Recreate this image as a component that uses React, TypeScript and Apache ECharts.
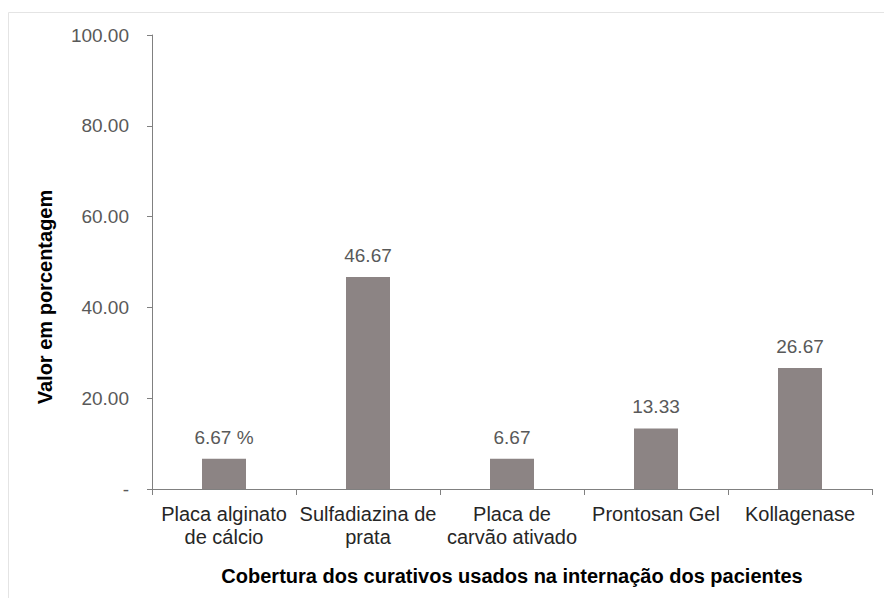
import React, { useEffect, useRef } from "react";
import * as echarts from "echarts";

const categories = [
  "Placa alginato\nde cálcio",
  "Sulfadiazina de\nprata",
  "Placa de\ncarvão ativado",
  "Prontosan Gel",
  "Kollagenase",
];
const values = [6.67, 46.67, 6.67, 13.33, 26.67];
const valueLabels = ["6.67 %", "46.67", "6.67", "13.33", "26.67"];

export default function App() {
  const ref = useRef<HTMLDivElement>(null);
  useEffect(() => {
    document.body.style.margin = "0";
    const chart = echarts.init(ref.current!, null, { renderer: "svg" });
    const font = "'Liberation Sans', Arial, sans-serif";
    chart.setOption({
      animation: false,
      backgroundColor: "#ffffff",
      textStyle: { fontFamily: font },
      grid: { left: 152, top: 35, right: 12, bottom: 109, containLabel: false },
      graphic: [
        {
          type: "rect",
          shape: { x: 8.5, y: 12.5, width: 890, height: 600 },
          style: { fill: "none", stroke: "#e4e4e4", lineWidth: 1 },
          silent: true,
        },
        {
          type: "text",
          x: 45,
          y: 297,
          rotation: Math.PI / 2,
          style: {
            text: "Valor em porcentagem",
            font: `bold 20px ${font}`,
            fill: "#000000",
            align: "center",
            verticalAlign: "middle",
          },
        },
      ],
      xAxis: {
        type: "category",
        data: categories,
        name: "Cobertura dos curativos usados na internação dos pacientes",
        nameLocation: "middle",
        nameGap: 77,
        nameTextStyle: { fontFamily: font, fontSize: 20, fontWeight: "bold", color: "#000000" },
        axisLine: { lineStyle: { color: "#808080", width: 1 } },
        axisTick: { show: true, length: 6, lineStyle: { color: "#808080" } },
        axisLabel: {
          fontFamily: font,
          fontSize: 20,
          color: "#262626",
          margin: 13,
          lineHeight: 23,
          interval: 0,
        },
      },
      yAxis: {
        type: "value",
        min: 0,
        max: 100,
        interval: 20,
        axisLine: { show: true, lineStyle: { color: "#808080", width: 1 } },
        axisTick: { show: true, length: 5, lineStyle: { color: "#808080" } },
        splitLine: { show: false },
        axisLabel: {
          fontFamily: font,
          fontSize: 19,
          color: "#595959",
          margin: 23,
          formatter: (v: number) => (v === 0 ? "-" : v.toFixed(2)),
        },
      },
      series: [
        {
          type: "bar",
          data: values,
          barWidth: 44,
          itemStyle: { color: "#8c8484" },
          label: {
            show: true,
            position: "top",
            distance: 12,
            fontFamily: font,
            fontSize: 19,
            color: "#595959",
            formatter: (p: any) => valueLabels[p.dataIndex],
          },
        },
      ],
    });
    return () => chart.dispose();
  }, []);
  return <div ref={ref} style={{ width: 884, height: 598 }} />;
}
